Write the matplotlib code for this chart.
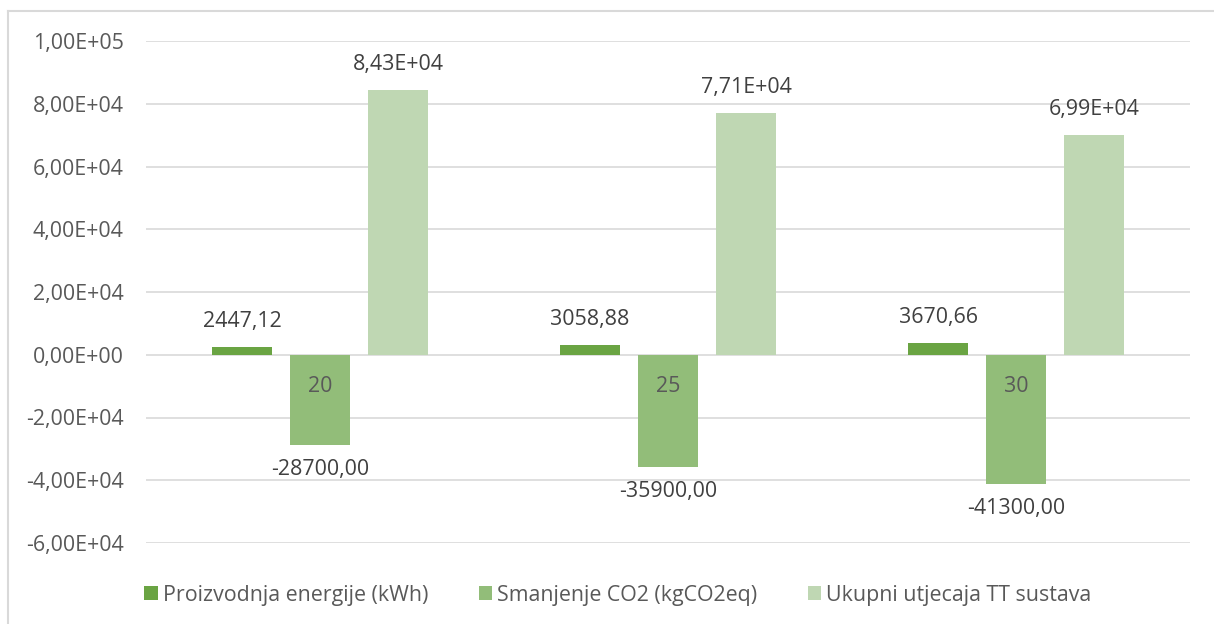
import matplotlib.pyplot as plt
from matplotlib.lines import Line2D
import numpy as np

plt.rcParams["font.family"] = ["Open Sans", "DejaVu Sans"]

# chart data
categories = ["20", "25", "30"]
series_names = ["Proizvodnja energije (kWh)", "Smanjenje CO2 (kgCO2eq)", "Ukupni utjecaja TT sustava"]
energy = [2447.12, 3058.88, 3670.66]
co2 = [-28700.00, -35900.00, -41300.00]
total = [84300, 77100, 69900]
colors = ["#6aa443", "#92bd79", "#bfd7b3"]

FS = 15.4


def sci_label(v):
    # excel style 8,43E+04
    return ("%.2E" % v).replace(".", ",")


def dec_label(v):
    return ("%.2f" % v).replace(".", ",")


fig = plt.figure(figsize=(12.14, 6.24), dpi=100)
ax = fig.add_axes([146 / 1214, 81 / 624, 1044 / 1214, 502 / 624])

x = np.arange(len(categories))
step = 0.224
width = 0.175
series = [energy, co2, total]
for i, vals in enumerate(series):
    bars = ax.bar(x + (i - 1) * step, vals, width, color=colors[i], zorder=2, label=series_names[i])
    for b, v in zip(bars, vals):
        cx = b.get_x() + b.get_width() / 2
        if i == 2:
            txt = sci_label(v)
        else:
            txt = dec_label(v)
        if v >= 0:
            ax.annotate(txt, (cx, v), xytext=(0, 11), textcoords="offset points",
                        ha="center", va="bottom", fontsize=FS, color="#404040", zorder=5)
        else:
            ax.annotate(txt, (cx, v), xytext=(0, -10), textcoords="offset points",
                        ha="center", va="top", fontsize=FS, color="#404040", zorder=5)

# category labels sit just under the zero line, on top of the bars
for xi, c in zip(x, categories):
    ax.annotate(c, (xi, 0), xytext=(0, -23), textcoords="offset points",
                ha="center", va="center", fontsize=FS, color="#595959", zorder=6)

ax.set_xlim(-0.5, len(categories) - 0.5)
ax.set_ylim(-60000, 100000)
yt = np.arange(-60000, 100001, 20000)
ax.set_yticks(yt)
ax.set_yticklabels([sci_label(v) for v in yt])
ax.set_xticks([])
ax.tick_params(axis="y", length=0, pad=16, labelsize=FS, labelcolor="#595959")
ax.yaxis.grid(True, color="#d9d9d9", lw=1.2, zorder=0)
ax.set_axisbelow(True)
for s in ax.spines.values():
    s.set_visible(False)

# outer chart border (left and top only visible)
fig.add_artist(Line2D([8 / 1214, 8 / 1214], [0, 1 - 11 / 624], color="#d9d9d9", lw=1.5))
fig.add_artist(Line2D([8 / 1214, 1], [1 - 11 / 624, 1 - 11 / 624], color="#d9d9d9", lw=1.5))

fig.legend(loc="center", bbox_to_anchor=(618 / 1214, 1 - 595 / 624), ncol=3, frameon=False,
           fontsize=FS, labelcolor="#595959", handlelength=0.62, handleheight=0.62,
           handletextpad=0.25, columnspacing=2.35)

fig.savefig("out.png", dpi=100)
